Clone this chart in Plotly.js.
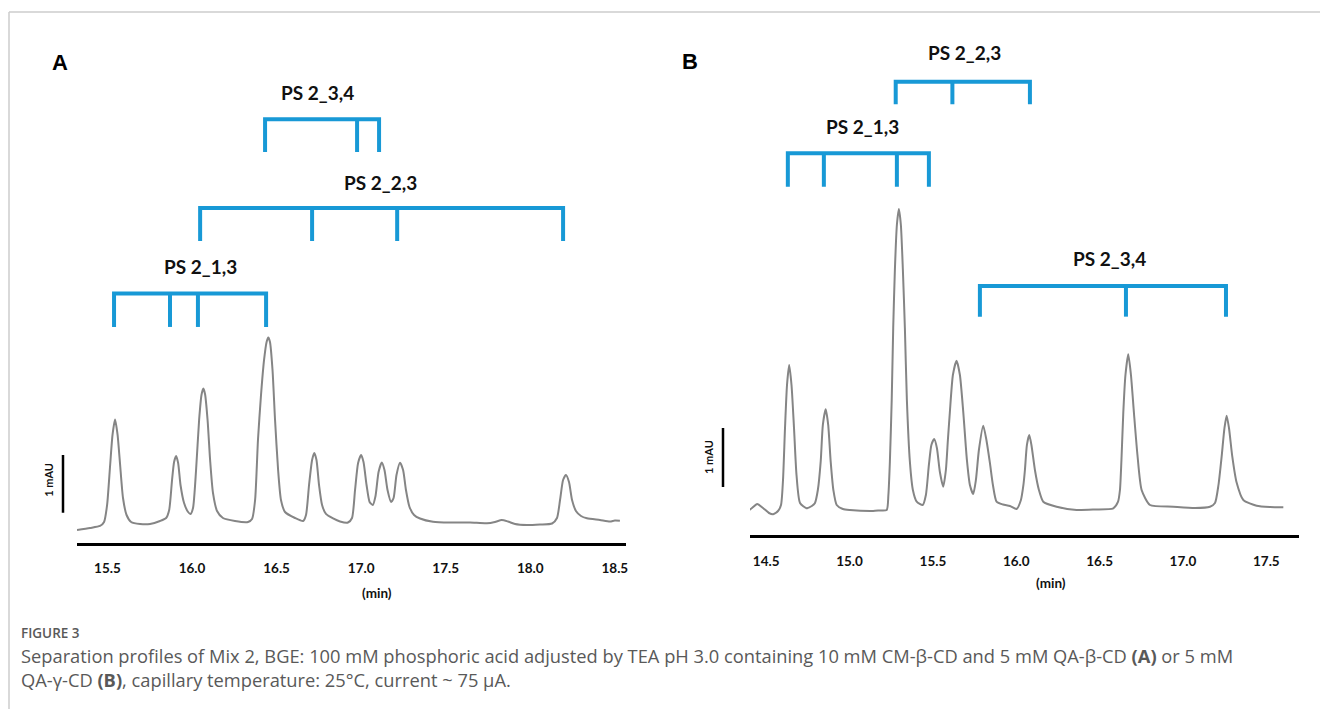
<!DOCTYPE html>
<html>
<head>
<meta charset="utf-8">
<script src="https://cdn.plot.ly/plotly-3.0.1.min.js"></script>
<style>
  html, body { margin: 0; padding: 0; background: #ffffff; }
  #chart { width: 1320px; height: 709px; }
</style>
</head>
<body>
<div id="chart"></div>
<script>
// ---------- Panel A: electropherogram (time in min, signal in mAU) ----------
const timeA = [
  15.320, 15.397, 15.456, 15.480, 15.498, 15.516, 15.530, 15.545, 15.560, 15.575,
  15.592, 15.613, 15.640, 15.693, 15.752, 15.811, 15.847, 15.865, 15.882, 15.894,
  15.906, 15.918, 15.932, 15.953, 15.977, 15.991, 16.006, 16.024, 16.042, 16.056,
  16.067, 16.077, 16.092, 16.107, 16.124, 16.148, 16.183, 16.254, 16.331, 16.355,
  16.373, 16.390, 16.408, 16.426, 16.441, 16.451, 16.461, 16.476, 16.491, 16.509,
  16.526, 16.550, 16.609, 16.657, 16.674, 16.692, 16.710, 16.723, 16.736, 16.751,
  16.769, 16.792, 16.834, 16.875, 16.922, 16.946, 16.964, 16.982, 17.000, 17.014,
  17.032, 17.050, 17.069, 17.085, 17.103, 17.122, 17.138, 17.156, 17.177, 17.192,
  17.209, 17.230, 17.248, 17.265, 17.286, 17.313, 17.348, 17.425, 17.526, 17.644,
  17.744, 17.791, 17.831, 17.868, 17.910, 17.981, 18.058, 18.129, 18.158, 18.176,
  18.194, 18.211, 18.229, 18.247, 18.270, 18.300, 18.335, 18.412, 18.471, 18.500,
  18.530
];
const signalA = [
  -0.139, -0.104, -0.069, 0.000, 0.295, 0.988, 1.508, 1.776, 1.508, 0.988,
  0.416, 0.121, 0.000, -0.035, -0.035, 0.017, 0.069, 0.208, 0.728, 1.040,
  1.144, 1.023, 0.641, 0.329, 0.173, 0.139, 0.243, 0.901, 1.768, 2.201,
  2.314, 2.218, 1.768, 1.075, 0.503, 0.191, 0.069, 0.017, 0.000, 0.052,
  0.381, 1.421, 2.201, 2.808, 3.120, 3.198, 3.120, 2.634, 1.768, 0.901,
  0.381, 0.173, 0.069, 0.017, 0.121, 0.641, 1.075, 1.196, 1.075, 0.641,
  0.295, 0.139, 0.061, 0.009, -0.009, 0.069, 0.555, 1.023, 1.161, 1.040,
  0.641, 0.347, 0.295, 0.451, 0.867, 1.031, 0.901, 0.555, 0.347, 0.416,
  0.815, 1.028, 0.901, 0.555, 0.260, 0.121, 0.061, 0.005, -0.009, -0.009,
  -0.023, 0.000, 0.035, 0.009, -0.035, -0.052, -0.043, -0.026, 0.069, 0.381,
  0.728, 0.815, 0.693, 0.381, 0.191, 0.104, 0.064, 0.035, 0.009, 0.026,
  0.023
];

// ---------- Panel B ----------
const timeB = [
  14.302, 14.373, 14.415, 14.446, 14.481, 14.517, 14.542, 14.571, 14.589, 14.601,
  14.613, 14.625, 14.638, 14.652, 14.667, 14.682, 14.703, 14.743, 14.774, 14.792,
  14.810, 14.827, 14.840, 14.857, 14.872, 14.887, 14.903, 14.923, 14.960, 15.002,
  15.142, 15.182, 15.223, 15.233, 15.242, 15.253, 15.262, 15.272, 15.284, 15.296,
  15.308, 15.320, 15.332, 15.344, 15.362, 15.380, 15.403, 15.439, 15.458, 15.476,
  15.491, 15.508, 15.524, 15.542, 15.562, 15.578, 15.590, 15.602, 15.620, 15.642,
  15.662, 15.682, 15.704, 15.722, 15.742, 15.758, 15.776, 15.802, 15.821, 15.842,
  15.860, 15.882, 15.920, 15.962, 16.002, 16.028, 16.043, 16.052, 16.064, 16.078,
  16.091, 16.112, 16.136, 16.162, 16.242, 16.362, 16.472, 16.582, 16.610, 16.622,
  16.631, 16.642, 16.655, 16.672, 16.688, 16.706, 16.727, 16.752, 16.802, 16.942,
  17.072, 17.162, 17.192, 17.213, 17.232, 17.249, 17.262, 17.276, 17.296, 17.321,
  17.362, 17.442, 17.522, 17.602
];
const signalB = [
  -0.090, -0.068, 0.017, 0.085, 0.017, -0.068, -0.090, -0.034, 0.068, 0.492,
  1.373, 2.102, 2.441, 2.102, 1.373, 0.576, 0.102, 0.012, 0.051, 0.097,
  0.322, 0.802, 1.424, 1.690, 1.424, 0.802, 0.322, 0.068, 0.000, -0.017,
  -0.034, -0.025, -0.017, 0.237, 0.802, 1.847, 3.068, 4.051, 4.814, 5.085,
  4.814, 4.051, 3.068, 1.847, 0.802, 0.322, 0.124, 0.068, 0.237, 0.746,
  1.085, 1.186, 1.034, 0.627, 0.378, 0.661, 1.169, 1.649, 2.271, 2.514,
  2.271, 1.649, 0.831, 0.407, 0.254, 0.492, 1.000, 1.412, 1.169, 0.780,
  0.407, 0.124, 0.076, 0.051, 0.000, 0.153, 0.407, 0.661, 1.085, 1.254,
  1.085, 0.661, 0.322, 0.124, 0.039, -0.017, -0.008, 0.012, 0.119, 0.322,
  0.831, 1.627, 2.271, 2.622, 2.271, 1.627, 0.915, 0.322, 0.068, 0.039,
  0.017, 0.039, 0.102, 0.407, 0.886, 1.373, 1.581, 1.373, 0.886, 0.458,
  0.153, 0.056, 0.034, 0.029
];

// ---------- Axis ticks ----------
const ticksA = [15.5, 16.0, 16.5, 17.0, 17.5, 18.0, 18.5];
const tickTextA = ['15.5', '16.0', '16.5', '17.0', '17.5', '18.0', '18.5'];
const ticksB = [14.5, 15.0, 15.5, 16.0, 16.5, 17.0, 17.5];
const tickTextB = ['14.5', '15.0', '15.5', '16.0', '16.5', '17.0', '17.5'];

// ---------- Peak-group brackets (peak times in min) ----------
const groupNamesA = ['PS 2_3,4', 'PS 2_2,3', 'PS 2_1,3'];
const groupPeaksA = [
  [16.432, 16.976, 17.106],
  [16.048, 16.710, 17.213, 18.194],
  [15.539, 15.870, 16.035, 16.438]
];
const groupNamesB = ['PS 2_2,3', 'PS 2_1,3', 'PS 2_3,4'];
const groupPeaksB = [
  [15.277, 15.617, 16.082],
  [14.630, 14.846, 15.284, 15.476],
  [15.782, 16.658, 17.258]
];

// bracket placement (layout, in axis units)
const barLevelA = [6.98, 5.44, 3.96];
const footLevelA = [6.41, 4.87, 3.38];
const labelXA = [16.744, 17.117, 16.048];
const labelYA = [7.44, 5.88, 4.43];
const barLevelB = [7.24, 6.03, 3.78];
const footLevelB = [6.86, 5.46, 3.26];
const labelXB = [15.692, 15.080, 16.557];
const labelYB = [7.73, 6.48, 4.25];

const BLUE = '#1899d6';
const TRACE = '#858585';

function bracketTrace(peaks, bars, feet, xa, ya) {
  const x = [], y = [];
  peaks.forEach((p, i) => {
    const first = p[0], last = p[p.length - 1];
    x.push(first, first, last, last, null);
    y.push(feet[i], bars[i], bars[i], feet[i], null);
    for (let k = 1; k < p.length - 1; k++) {
      x.push(p[k], p[k], null);
      y.push(bars[i], feet[i], null);
    }
  });
  return {
    x, y, xaxis: xa, yaxis: ya, type: 'scatter', mode: 'lines',
    line: { color: BLUE, width: 4 }, hoverinfo: 'skip', showlegend: false
  };
}

const traces = [
  { x: timeA, y: signalA, type: 'scatter', mode: 'lines', xaxis: 'x', yaxis: 'y',
    line: { color: TRACE, width: 2, shape: 'spline', smoothing: 0.6 }, showlegend: false },
  { x: timeB, y: signalB, type: 'scatter', mode: 'lines', xaxis: 'x2', yaxis: 'y2',
    line: { color: TRACE, width: 2, shape: 'spline', smoothing: 0.6 }, showlegend: false },
  bracketTrace(groupPeaksA, barLevelA, footLevelA, 'x', 'y'),
  bracketTrace(groupPeaksB, barLevelB, footLevelB, 'x2', 'y2')
];

const labelFont = { family: 'Lato, "Open Sans", sans-serif', size: 19, color: '#111111', weight: 700 };
const annotations = [];
groupNamesA.forEach((n, i) => annotations.push({
  xref: 'x', yref: 'y', x: labelXA[i], y: labelYA[i], text: n, showarrow: false,
  xanchor: 'center', yanchor: 'middle', font: labelFont
}));
groupNamesB.forEach((n, i) => annotations.push({
  xref: 'x2', yref: 'y2', x: labelXB[i], y: labelYB[i], text: n, showarrow: false,
  xanchor: 'center', yanchor: 'middle', font: labelFont
}));

const panelFont = { family: '"Liberation Sans", Arial, sans-serif', size: 22, color: '#000', weight: 700 };
const smallBold = { family: 'Lato, "Open Sans", sans-serif', size: 13.5, color: '#111', weight: 700 };
const captionFont = { family: '"Open Sans", sans-serif', size: 18.3, color: '#595959' };
annotations.push(
  { xref: 'paper', yref: 'paper', x: 60 / 1320, y: 1 - 63 / 709, text: 'A', showarrow: false, xanchor: 'center', yanchor: 'middle', font: panelFont },
  { xref: 'paper', yref: 'paper', x: 690 / 1320, y: 1 - 62 / 709, text: 'B', showarrow: false, xanchor: 'center', yanchor: 'middle', font: panelFont },
  { xref: 'paper', yref: 'y', x: 49 / 1320, y: 0.73, text: '1 mAU', textangle: -90, showarrow: false, xanchor: 'center', yanchor: 'middle', font: { ...smallBold, size: 11 } },
  { xref: 'paper', yref: 'y2', x: 708 / 1320, y: 0.88, text: '1 mAU', textangle: -90, showarrow: false, xanchor: 'center', yanchor: 'middle', font: { ...smallBold, size: 11 } },
  { xref: 'paper', yref: 'paper', x: 377 / 1320, y: 1 - 593 / 709, text: '(min)', showarrow: false, xanchor: 'center', yanchor: 'middle', font: smallBold },
  { xref: 'paper', yref: 'paper', x: 1051 / 1320, y: 1 - 583 / 709, text: '(min)', showarrow: false, xanchor: 'center', yanchor: 'middle', font: smallBold },
  { xref: 'paper', yref: 'paper', x: 19 / 1320, y: 1 - 633 / 709, text: 'FIGURE 3', showarrow: false, xanchor: 'left', yanchor: 'middle',
    font: { family: '"Open Sans", sans-serif', size: 13.5, color: '#595959', weight: 600 } },
  { xref: 'paper', yref: 'paper', x: 19 / 1320, y: 1 - 655 / 709,
    text: 'Separation profiles of Mix 2, BGE: 100 mM phosphoric acid adjusted by TEA pH 3.0 containing 10 mM CM-β-CD and 5 mM QA-β-CD <b>(A)</b> or 5 mM',
    showarrow: false, xanchor: 'left', yanchor: 'middle', font: captionFont },
  { xref: 'paper', yref: 'paper', x: 19 / 1320, y: 1 - 679 / 709,
    text: 'QA-γ-CD <b>(B)</b>, capillary temperature: 25°C, current ~ 75 µA.',
    showarrow: false, xanchor: 'left', yanchor: 'middle', font: captionFont }
);

const shapes = [
  // scale bars (1 mAU)
  { type: 'line', xref: 'paper', yref: 'y', x0: 63 / 1320, x1: 63 / 1320, y0: 0.161, y1: 1.161, line: { color: '#000', width: 2.5 } },
  { type: 'line', xref: 'paper', yref: 'y2', x0: 723 / 1320, x1: 723 / 1320, y0: 0.373, y1: 1.373, line: { color: '#000', width: 2.5 } },
  // figure card border
  { type: 'line', xref: 'paper', yref: 'paper', x0: 9 / 1320, x1: 1, y0: 1 - 12 / 709, y1: 1 - 12 / 709, line: { color: '#cccccc', width: 1.5 } },
  { type: 'line', xref: 'paper', yref: 'paper', x0: 9 / 1320, x1: 9 / 1320, y0: 0, y1: 1 - 12 / 709, line: { color: '#cccccc', width: 1.5 } }
];

const xBase = {
  showline: true, linecolor: '#000', linewidth: 3, showgrid: false, zeroline: false,
  ticks: 'outside', ticklen: 11, tickcolor: 'rgba(0,0,0,0)',
  tickfont: smallBold, fixedrange: true
};
const yBase = { visible: false, showgrid: false, zeroline: false, fixedrange: true };

const layout = {
  width: 1320, height: 709,
  margin: { l: 0, r: 0, t: 0, b: 0 },
  paper_bgcolor: '#ffffff', plot_bgcolor: 'rgba(0,0,0,0)',
  showlegend: false,
  xaxis: { ...xBase, domain: [77 / 1320, 626 / 1320], range: [15.320, 18.566], tickvals: ticksA, ticktext: tickTextA, anchor: 'y' },
  yaxis: { ...yBase, domain: [1 - 542.7 / 709, 1 - 40 / 709], range: [-0.359, 8.353], anchor: 'x' },
  xaxis2: { ...xBase, domain: [750 / 1320, 1299 / 1320], range: [14.403, 17.696], tickvals: ticksB, ticktext: tickTextB, anchor: 'y2' },
  yaxis2: { ...yBase, domain: [1 - 535.3 / 709, 1 - 40 / 709], range: [-0.446, 7.949], anchor: 'x2' },
  annotations, shapes
};

Plotly.newPlot('chart', traces, layout, { staticPlot: true, displayModeBar: false });
</script>
</body>
</html>
